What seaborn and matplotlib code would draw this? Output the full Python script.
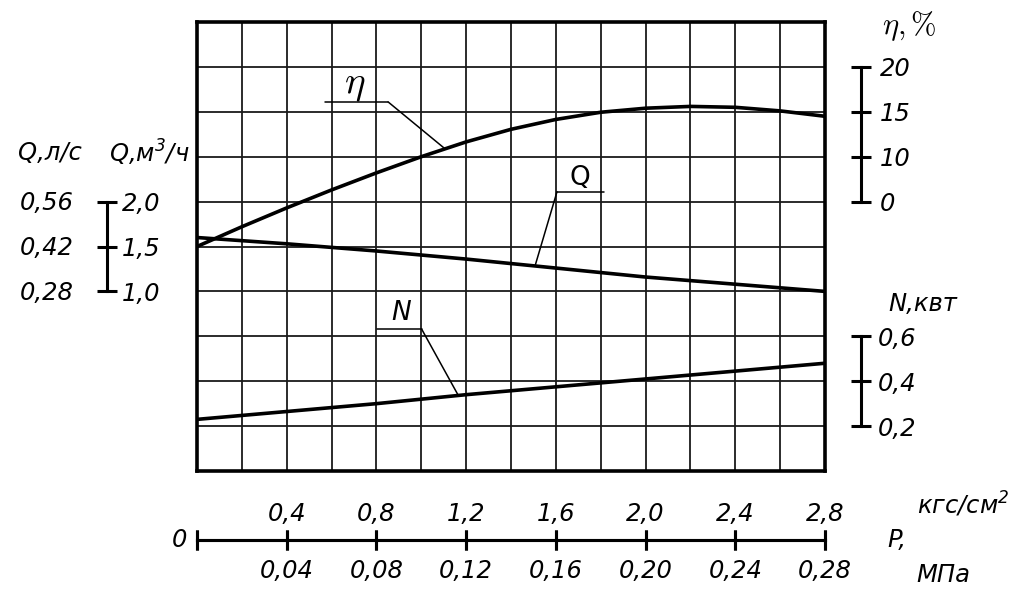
import numpy as np
import matplotlib
matplotlib.use("Agg")
import matplotlib.pyplot as plt
import seaborn as sns

# pressure, kgf/cm2
p_eta = [0.0, 0.2, 0.4, 0.6, 0.8, 1.0, 1.2, 1.4, 1.6, 1.8, 2.0, 2.2, 2.4, 2.6, 2.8]
eta = [0.0, 2.2, 4.3, 6.3, 8.2, 10.0, 11.65, 13.05, 14.15, 14.95, 15.4, 15.6, 15.5, 15.1, 14.5]

p_qn = [0.0, 0.4, 0.8, 1.2, 1.6, 2.0, 2.4, 2.8]
q_m3h = [1.60, 1.53, 1.45, 1.36, 1.26, 1.16, 1.08, 1.00]
n_kw = [0.23, 0.265, 0.30, 0.34, 0.375, 0.41, 0.445, 0.48]

# axis scales (ticks and labels as printed on the drawing)
p_ticks = [0.0, 0.4, 0.8, 1.2, 1.6, 2.0, 2.4, 2.8]
p_kgf_labels = ["", "0,4", "0,8", "1,2", "1,6", "2,0", "2,4", "2,8"]
p_mpa_labels = ["", "0,04", "0,08", "0,12", "0,16", "0,20", "0,24", "0,28"]

eta_lim = (-25, 25)
eta_ticks = [5, 10, 15, 20]
eta_labels = ["0", "10", "15", "20"]

q_lim = (-1.0, 4.0)
q_ticks = [1.0, 1.5, 2.0]
q_labels = ["1,0", "1,5", "2,0"]
q_ls_ticks = [0.28, 0.42, 0.56]
q_ls_labels = ["0,28", "0,42", "0,56"]

n_lim = (0.0, 2.0)
n_ticks = [0.2, 0.4, 0.6]
n_labels = ["0,2", "0,4", "0,6"]

sns.set_style("white")
plt.rcParams.update({
    "font.family": ["DejaVu Sans"],
    "font.style": "oblique",
    "text.color": "k",
    "xtick.color": "k",
    "ytick.color": "k",
    "axes.edgecolor": "k",
    "axes.labelcolor": "k",
})
FS = 17.5
LW = 2.2

fig = plt.figure(figsize=(10.24, 6.01), dpi=100)
ax = fig.add_axes([0.1924, 0.2163, 0.6133, 0.7471])
ax.set_xlim(0, 2.8)
ax.set_ylim(0, 10)
ax.set_xticks(np.linspace(0, 2.8, 15))
ax.set_yticks(range(11))
ax.grid(True, color="#1a1a1a", lw=1.3)
for s in ax.spines.values():
    s.set_linewidth(2.6)
    s.set_color("k")


def y_scale(side, pos, lim, ticks, labels, pad, show_spine=True):
    a = ax.twinx()
    a.set_ylim(*lim)
    for s in a.spines.values():
        s.set_visible(False)
    if side == "left":
        a.yaxis.tick_left()
    else:
        a.yaxis.tick_right()
    sp = a.spines[side]
    sp.set_position(("axes", pos))
    sp.set_visible(show_spine)
    sp.set_linewidth(LW)
    sp.set_bounds(ticks[0], ticks[-1])
    a.set_yticks(ticks, labels)
    a.tick_params(axis="y", direction="inout", length=14 if show_spine else 0,
                  width=LW, pad=pad, labelsize=FS)
    return a


def x_scale(side, labels, pad):
    a = ax.twiny()
    a.set_xlim(0, 2.8)
    for s in a.spines.values():
        s.set_visible(False)
    if side == "top":
        a.xaxis.tick_top()
    else:
        a.xaxis.tick_bottom()
    sp = a.spines[side]
    sp.set_visible(True)
    sp.set_position(("axes", -0.1537))
    sp.set_linewidth(LW)
    sp.set_bounds(0, 2.8)
    a.set_xticks(p_ticks, labels)
    a.tick_params(axis="x", direction="inout", length=14, width=LW, pad=pad, labelsize=FS)
    return a


ax_eta = y_scale("right", 1.057, eta_lim, eta_ticks, eta_labels, pad=7)
ax_n = y_scale("right", 1.057, n_lim, n_ticks, n_labels, pad=5)
ax_q = y_scale("right", -0.1433, q_lim, q_ticks, q_labels, pad=4)
ax_ql = y_scale("left", -0.1433, (q_lim[0] / 3.6, q_lim[1] / 3.6),
                q_ls_ticks, q_ls_labels, pad=24, show_spine=False)
ax_kgf = x_scale("top", p_kgf_labels, pad=3)
ax_mpa = x_scale("bottom", p_mpa_labels, pad=7)

ax.tick_params(length=0, labelbottom=False, labelleft=False,
               labeltop=False, labelright=False)

sns.lineplot(x=p_eta, y=eta, ax=ax_eta, color="k", lw=2.6)
sns.lineplot(x=p_qn, y=q_m3h, ax=ax_q, color="k", lw=2.6)
sns.lineplot(x=p_qn, y=n_kw, ax=ax_n, color="k", lw=2.6)
for a in (ax_eta, ax_q, ax_n):
    a.set_xlabel("")
    a.set_ylabel("")


def leader(series_ax, p_tip, v_tip, x0, x1, row, from_right=True):
    ax.plot([x0, x1], [row, row], color="k", lw=1.1)
    start = x1 if from_right else x0
    ax.annotate("", xy=(p_tip, v_tip), xycoords=series_ax.transData,
                xytext=(start, row), textcoords="data",
                arrowprops=dict(arrowstyle="-", lw=1.1, color="k",
                                shrinkA=0, shrinkB=0))


leader(ax_eta, 1.106, np.interp(1.106, p_eta, eta), 0.571, 0.852, 8.22)
leader(ax_q, 1.507, np.interp(1.507, p_qn, q_m3h), 1.605, 1.813, 6.22, from_right=False)
leader(ax_n, 1.165, np.interp(1.165, p_qn, n_kw), 0.801, 1.002, 3.156)

ax.text(0.705, 8.62, r"$\eta$", math_fontfamily="cm", fontsize=28,
        ha="center", va="center")
ax.text(1.708, 6.53, "Q", fontstyle="normal", fontsize=19, ha="center", va="center")
ax.text(0.91, 3.52, "N", fontsize=19, ha="center", va="center")

tr = ax.transAxes
ax.text(1.135, 0.99, r"$\eta,\%$", math_fontfamily="cm", fontsize=22,
        ha="center", va="center", transform=tr)
ax.text(1.156, 0.372, "N,квт", fontsize=FS, ha="center", va="center", transform=tr)
ax.text(-0.234, 0.708, "Q,л/с", fontsize=FS, ha="center", va="center", transform=tr)
ax.text(-0.0764, 0.708, r"Q,м$^\mathit{3}$/ч", fontsize=FS, ha="center", va="center",
        transform=tr)
ax.text(-0.016, -0.1537, "0", fontsize=FS, ha="right", va="center", transform=tr)
ax.text(1.100, -0.1537, "P,", fontsize=FS, ha="left", va="center", transform=tr)
ax.text(1.146, -0.0757, r"кгс/см$^\mathit{2}$", fontsize=FS, ha="left", va="center",
        transform=tr)
ax.text(1.146, -0.2316, "МПа", fontsize=FS, ha="left", va="center", transform=tr)

fig.savefig("out.png", dpi=100)
